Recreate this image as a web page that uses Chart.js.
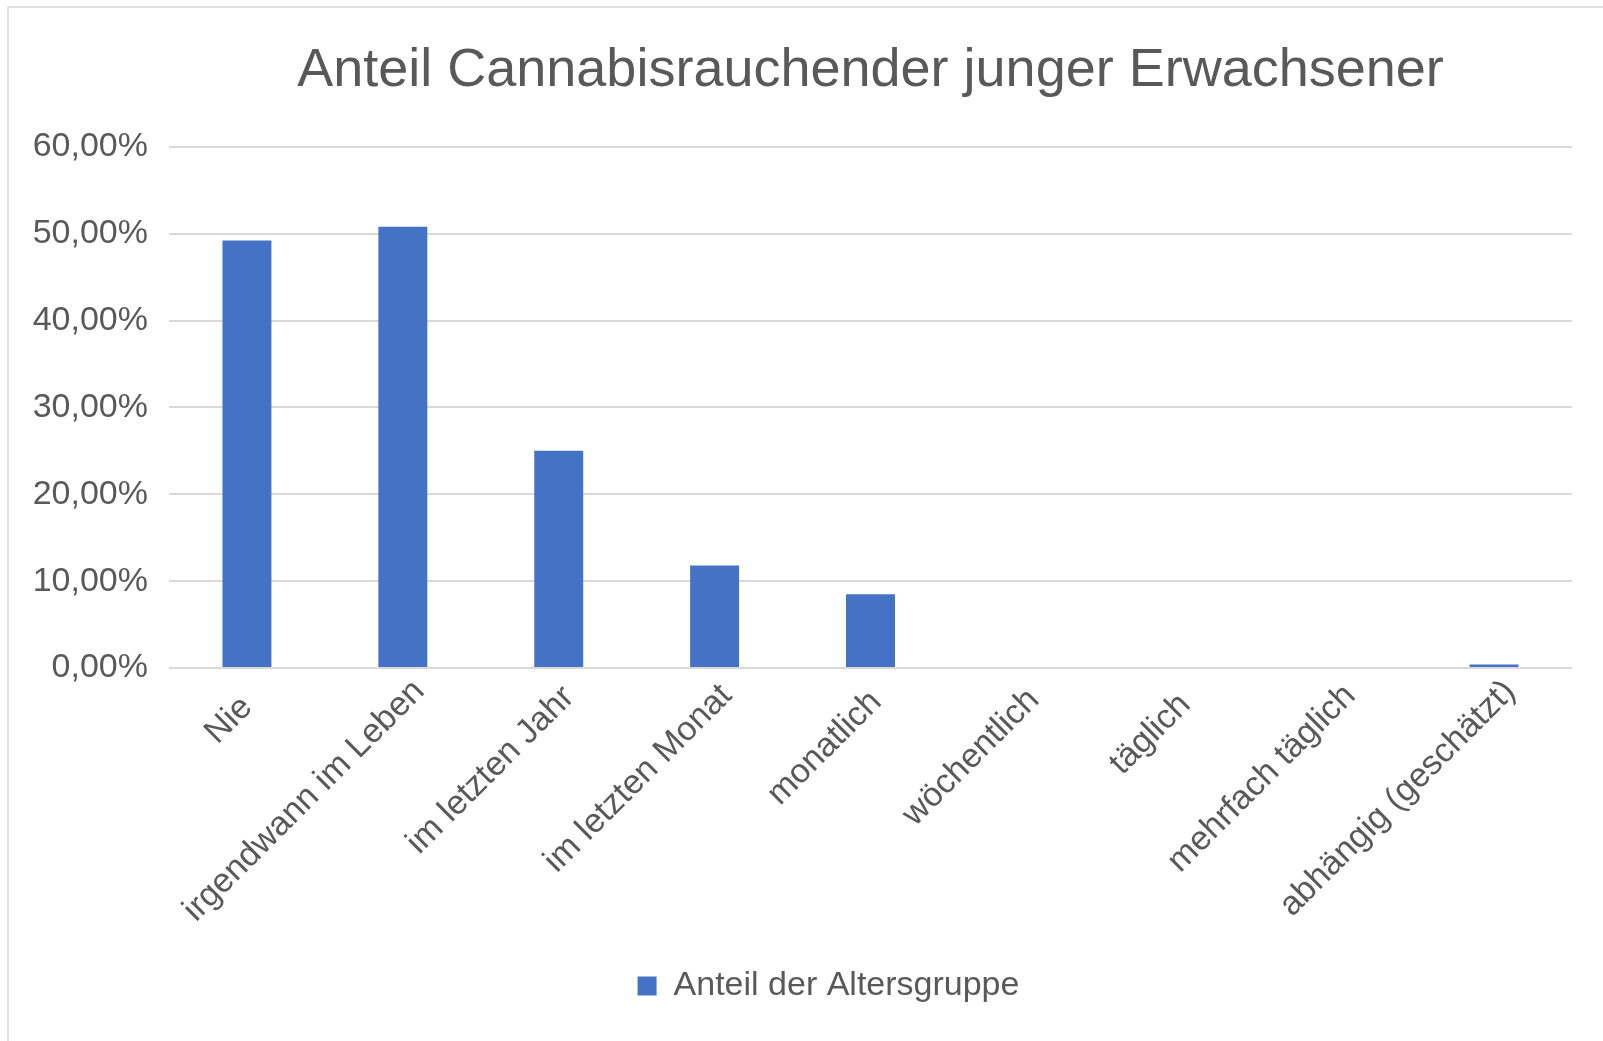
<!DOCTYPE html>
<html lang="de">
<head>
<meta charset="utf-8">
<title>Anteil Cannabisrauchender junger Erwachsener</title>
<script src="https://cdn.jsdelivr.net/npm/chart.js@4.4.1/dist/chart.umd.min.js"></script>
<style>
  html, body { margin: 0; padding: 0; background: #ffffff; overflow: hidden; width: 1603px; height: 1041px; }
  #frame {
    position: absolute; left: 7px; top: 6px; width: 1700px; height: 1100px;
    border-left: 2px solid #e2e2e2; border-top: 2px solid #e2e2e2;
  }
  #wrap { position: absolute; left: 0; top: 0; width: 1657px; height: 1041px; }
</style>
</head>
<body>
<div id="frame"></div>
<div id="wrap"><canvas id="chart" width="1657" height="1041"></canvas></div>
<script>
// Categories (consumption frequency) and shares of the age group in percent
const categories = [
  'Nie',
  'irgendwann im Leben',
  'im letzten Jahr',
  'im letzten Monat',
  'monatlich',
  'wöchentlich',
  'täglich',
  'mehrfach täglich',
  'abhängig (geschätzt)'
];
const shareValues = [49.2, 50.8, 25.0, 11.8, 8.5, 0, 0, 0, 0.4];
const seriesLabel = 'Anteil der Altersgruppe';
const chartTitle = 'Anteil Cannabisrauchender junger Erwachsener';
const yTickValues = [0, 10, 20, 30, 40, 50, 60];

const textColor = '#595959';
const fontFamily = '"Liberation Sans", Arial, Helvetica, sans-serif';

function formatPercent(v) {
  return v.toFixed(2).replace('.', ',') + '%';
}

// Slanted category labels: longer labels sit a little further up along
// their own direction, the way office charts place 45° axis text.
const slantedLabelShift = {
  id: 'slantedLabelShift',
  beforeDraw(chart) {
    const scale = chart.scales.x;
    const items = scale.getLabelItems(chart.chartArea);
    const ctx = chart.ctx;
    ctx.save();
    items.forEach(item => {
      ctx.font = item.font.string;
      const w = ctx.measureText(String(item.label)).width;
      const t = -3 + 0.06 * w;
      item.options.translation[0] += t;
      item.options.translation[1] -= t;
    });
    ctx.restore();
  }
};

new Chart(document.getElementById('chart'), {
  type: 'bar',
  data: {
    labels: categories,
    datasets: [{
      label: seriesLabel,
      data: shareValues,
      backgroundColor: '#4472C4',
      borderWidth: 0,
      categoryPercentage: 1,
      barPercentage: 0.314
    }]
  },
  plugins: [slantedLabelShift],
  options: {
    responsive: false,
    animation: false,
    devicePixelRatio: 1,
    layout: { padding: { left: 0, right: 0, top: 0, bottom: 28 } },
    plugins: {
      tooltip: { enabled: false },
      title: {
        display: true,
        text: chartTitle,
        fullSize: false,
        color: textColor,
        font: { family: fontFamily, size: 54, weight: 'normal' },
        padding: { top: 39, bottom: 43 }
      },
      legend: {
        display: true,
        position: 'bottom',
        labels: {
          color: textColor,
          font: { family: fontFamily, size: 34 },
          boxWidth: 19,
          boxHeight: 19,
          padding: 10
        }
      }
    },
    scales: {
      x: {
        grid: { display: false },
        border: { display: false },
        ticks: {
          color: textColor,
          font: { family: fontFamily, size: 34 },
          minRotation: 45,
          maxRotation: 45,
          autoSkip: false,
          padding: 12
        },
        afterFit(scale) {
          scale.height = 291;
          scale.paddingRight = 85;
        }
      },
      y: {
        min: 0,
        max: 60,
        afterBuildTicks(scale) {
          scale.ticks = yTickValues.map(v => ({ value: v }));
        },
        grid: { color: '#d9d9d9', lineWidth: 2, drawTicks: false },
        border: { display: false },
        ticks: {
          color: textColor,
          font: { family: fontFamily, size: 34 },
          padding: 21,
          callback: (v) => formatPercent(v)
        },
        afterFit(scale) {
          scale.width = 169;
        }
      }
    }
  }
});
</script>
</body>
</html>
